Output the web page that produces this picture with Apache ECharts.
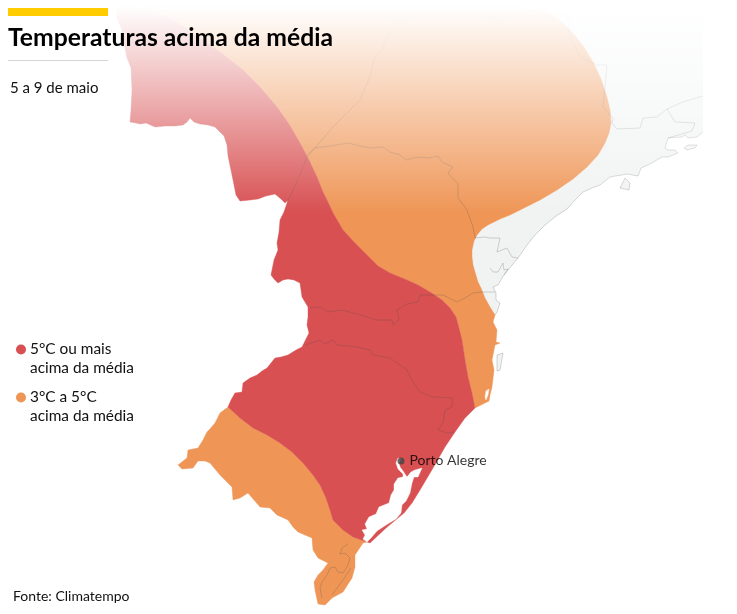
<!DOCTYPE html>
<html>
<head>
<meta charset="utf-8">
<title>Temperaturas acima da média</title>
<script src="https://cdn.jsdelivr.net/npm/echarts@6/dist/echarts.min.js"></script>
<style>
html, body { margin: 0; background: #fff; }
#chart { width: 737px; height: 614px; }
</style>
</head>
<body>
<div id="chart"></div>
<script>
// map outlines in map units (1 unit = 1 px of the reference)
const westEdge = [[117,18],[122,30],[125,48],[127,58],[131,68],[132,90],[131,110],[130,122],[136,123],[140,124],[146,123],[155,127],[165,126],[175,126],[183,125],[187,122],[190,118],[194,122],[200,124],[208,125],[215,127],[220,132],[224,136],[227,145],[228,156],[232,175],[234,185],[236,195],[240,201],[250,200],[258,199],[266,196],[275,194],[281,199],[285,203],[288,200],[284,212],[280,220],[279,232],[277,243],[278,250],[274,260],[271,275],[274,279],[278,283],[283,280],[288,279],[294,280],[300,283],[301,290],[302,297],[305,302],[308,307],[308,317],[307,325],[309,333],[305,341],[302,347],[296,350],[288,355],[281,357],[275,358],[271,363],[267,368],[262,371],[257,375],[250,378],[243,383],[242,392],[235,393],[231,400],[228,407]]
const southWestEdge = [[228,407],[220,413],[215,423],[209,430],[207,432],[203,440],[198,448],[188,450],[187,458],[178,465],[182,469],[193,468],[198,461],[205,461],[210,463],[215,469],[220,475],[226,481],[232,487],[233,500],[240,498],[248,493],[254,500],[260,507],[270,508],[277,515],[288,520],[293,527],[298,532],[305,535],[312,538],[313,550],[318,558],[328,563],[323,570],[318,575],[314,582],[315,590],[318,604],[325,605],[332,598],[343,592],[352,578],[355,567],[355,555],[363,543],[367,542]]
const southCoast = [[367,542],[370,543],[386,528],[404,513],[412,503],[420,490],[433,468],[445,447],[455,432],[465,418],[475,408]]
const midCoast = [[475,408],[489,401],[490,395],[492,387],[494,370],[492,360],[495,345],[500,343],[496,342],[497,330],[493,322],[495,315]]
const northCoast = [[495,315],[497,312],[500,303],[496,300],[496,293],[493,287],[498,285],[504,275],[508,270],[518,258],[527,245],[535,235],[545,225],[556,216],[567,209],[575,200],[583,192],[592,188],[600,185],[610,177],[627,174],[638,176],[641,168],[650,164],[662,157],[668,157],[678,153],[675,150],[668,150],[665,148],[668,138],[682,137],[685,135],[688,138],[697,137],[703,132]]
const topEdge = [[703,8],[117,8]]

const redBoundary = [[143,8],[158,13],[173,20],[193,33],[213,47],[228,58],[243,70],[260,87],[277,107],[289,124],[300,143],[309,160],[317,177],[323,192],[327,200],[333,213],[343,230],[355,243],[367,255],[378,266],[390,273],[407,280],[418,285],[430,292],[442,300],[450,308],[456,317],[459,328],[462,340],[465,360],[468,377],[472,393],[475,408]]
const orangeEdge = [[495,315],[490,307],[485,298],[481,288],[478,282],[475,272],[473,265],[472,257],[472,250],[474,241],[477,235],[482,229],[488,225],[500,219],[510,215],[520,210],[540,200],[557,190],[573,179],[587,167],[598,155],[605,143],[609,133],[611,123],[610,110],[607,97],[601,79],[593,62],[584,47],[573,33],[563,23],[553,15],[540,10],[520,7],[500,6],[143,6]]
const southBoundary = [[228,407],[240,418],[253,428],[267,435],[280,443],[292,452],[303,463],[313,475],[320,485],[326,498],[330,510],[333,520],[343,530],[353,537],[367,542]]
const lake = [[398,458],[396,463],[398,469],[403,474],[403,477],[398,478],[394,484],[394,490],[391,495],[389,503],[384,505],[379,507],[376,514],[369,517],[365,524],[367,529],[362,530],[365,535],[363,539],[367,542],[371,538],[377,531],[386,525],[396,519],[401,513],[402,505],[406,501],[410,493],[412,483],[414,477],[418,477],[422,468],[415,470],[411,472],[407,477],[403,471],[400,467],[399,463],[401,459]]
const lagoon = [[485,397],[486,391],[489,389],[488,395],[486,400]]
const floripa = [[497,355],[503,353],[500,370],[497,371]]
const ilhaBela = [[620,188],[625,178],[630,183],[629,190]]
const ilhaGrande = [[684,148],[688,145],[697,145],[695,148],[687,150]]

const borders = {
  coast: northCoast,
  msSp: [[287,202],[292,193],[302,170],[307,157],[333,127],[360,100],[370,77],[375,57],[383,50],[385,40],[395,25],[407,20],[408,12]],
  prNorth: [[307,155],[315,148],[330,146],[348,143],[360,146],[370,148],[383,147],[390,152],[400,155],[403,158],[407,160],[413,158],[420,157],[428,158],[438,156],[442,162],[453,167],[448,173],[452,178],[458,183],[458,198],[467,210],[473,227],[475,238],[485,237],[490,238],[500,238],[497,252],[507,248],[512,257],[518,258]],
  prSc: [[310,308],[320,307],[328,312],[342,310],[357,314],[377,320],[392,320],[393,325],[399,320],[397,310],[407,304],[418,302],[420,295],[433,295],[443,295],[451,299],[457,302],[465,298],[473,293],[482,292],[495,292]],
  scRs: [[305,345],[320,340],[325,344],[333,340],[337,345],[357,347],[370,350],[373,355],[390,358],[407,370],[413,382],[420,392],[433,397],[453,398],[452,407],[445,410],[443,423],[438,430],[447,433],[455,432]],
  babitonga: [[490,268],[493,272],[498,272],[503,263],[504,270],[508,269],[504,275]],
  mirim: [[348,544],[342,548],[340,554],[345,553],[350,558],[348,565],[343,573],[338,572],[335,567],[330,568],[327,575],[322,582],[320,588],[322,598]],
  mangueira: [[351,568],[343,580],[337,588],[332,595]],
  spMg: [[483,10],[490,17],[500,23],[507,13]],
  mgRj: [[567,10],[570,37],[580,57],[597,65],[607,65],[603,107],[610,115],[613,118],[612,123],[617,129],[640,128],[643,118],[657,117],[667,109],[683,102],[703,96]],
  rj: [[667,109],[675,122],[695,123],[692,131],[668,138]],
  ilhaBela: ilhaBela.concat(ilhaBela.slice(0, 1)),
  ilhaGrande: ilhaGrande.concat(ilhaGrande.slice(0, 1)),
  floripa: floripa.concat(floripa.slice(0, 1))
}

const portoAlegre = [[401,461]]
const fadeBox = [[110,0],[704,0],[704,212],[110,212]]

const legendRed = '5°C ou mais\nacima da média'
const legendOrange = '3°C a 5°C\nacima da média'
const RED = '#d85052'
const ORANGE = '#ef9657'
const LAND = '#f1f3f3'

function shape (name, points, color, z) {
  return {
    type: 'custom',
    name,
    coordinateSystem: 'cartesian2d',
    silent: true,
    clip: false,
    z,
    itemStyle: { color },
    data: points,
    renderItem (params, api) {
      if (params.dataIndex !== 0) return null
      return {
        type: 'polygon',
        shape: { points: points.map(p => api.coord(p)) },
        style: { fill: color, stroke: color === LAND ? null : color, lineWidth: 0.4 }
      }
    }
  }
}

function border (points) {
  return {
    type: 'line',
    data: points,
    silent: true,
    showSymbol: false,
    z: 3,
    lineStyle: { color: 'rgba(70,70,70,0.33)', width: 0.7 }
  }
}

const land = westEdge.concat(southWestEdge, southCoast, midCoast, northCoast, topEdge)
const orangeNorth = redBoundary.concat(midCoast, orangeEdge)
const orangeSouth = southBoundary.concat(southWestEdge.slice().reverse())
const redZone = [[117,8]].concat(westEdge, southBoundary, southCoast, redBoundary.slice().reverse())

const fade = new echarts.graphic.LinearGradient(0, 0, 0, 1, [
  { offset: 0, color: 'rgba(255,255,255,1)' },
  { offset: 0.03, color: 'rgba(255,255,255,1)' },
  { offset: 1, color: 'rgba(255,255,255,0)' }
])

const option = {
  animation: false,
  grid: { left: 0, right: 0, top: 0, bottom: 0 },
  xAxis: { type: 'value', min: 0, max: 737, show: false },
  yAxis: { type: 'value', min: 0, max: 614, inverse: true, show: false },
  title: [
    { text: 'Temperaturas acima da média', left: 8, top: 26, padding: 0, z: 10, textStyle: { fontFamily: 'Lato', fontWeight: 700, fontSize: 24.7, color: '#000' } },
    { text: '5 a 9 de maio', left: 10, top: 81, padding: 0, z: 10, textStyle: { fontFamily: 'Lato', fontWeight: 400, fontSize: 15, color: '#111' } },
    { text: 'Fonte: Climatempo', left: 13, top: 589, padding: 0, z: 10, textStyle: { fontFamily: 'Lato', fontWeight: 400, fontSize: 14, color: '#111' } }
  ],
  legend: [
    { data: [{ name: legendRed, icon: 'circle' }], selectedMode: false, left: 16, top: 321, padding: 0, itemWidth: 10, itemHeight: 10, itemGap: 0,
      formatter: n => '\n' + n, textStyle: { fontFamily: 'Lato', fontSize: 15.4, lineHeight: 19, color: '#111', padding: [0, 0, 0, -1] } },
    { data: [{ name: legendOrange, icon: 'circle' }], selectedMode: false, left: 16, top: 369, padding: 0, itemWidth: 10, itemHeight: 10, itemGap: 0,
      formatter: n => '\n' + n, textStyle: { fontFamily: 'Lato', fontSize: 15.4, lineHeight: 19, color: '#111', padding: [0, 0, 0, -1] } }
  ],
  graphic: [
    { type: 'rect', shape: { x: 8, y: 8, width: 100, height: 8 }, style: { fill: '#ffcc00' } },
    { type: 'rect', shape: { x: 8, y: 60, width: 100, height: 1 }, style: { fill: '#d5d5d8' } }
  ],
  series: [
    shape('land', land, LAND, 1),
    shape('ilhaBela', ilhaBela, LAND, 1),
    shape('ilhaGrande', ilhaGrande, LAND, 1),
    shape('floripa', floripa, LAND, 1),
    shape(legendOrange, orangeNorth, ORANGE, 1),
    shape('orangeSouth', orangeSouth, ORANGE, 1),
    shape(legendRed, redZone, RED, 2),
    shape('lake', lake, '#fff', 2),
    shape('lagoon', lagoon, '#fff', 2),
    ...Object.values(borders).map(border),
    shape('fade', fadeBox, fade, 5),
    {
      type: 'scatter',
      data: portoAlegre,
      silent: true,
      z: 6,
      symbolSize: 7,
      itemStyle: { color: '#444' },
      label: { show: true, formatter: 'Porto Alegre', position: 'right', distance: 5, offset: [0, -1], fontFamily: 'Lato', fontSize: 14, color: '#000' }
    }
  ]
}

const myChart = echarts.init(document.getElementById('chart'), null, { renderer: 'canvas' })
myChart.setOption(option)
</script>
</body>
</html>
